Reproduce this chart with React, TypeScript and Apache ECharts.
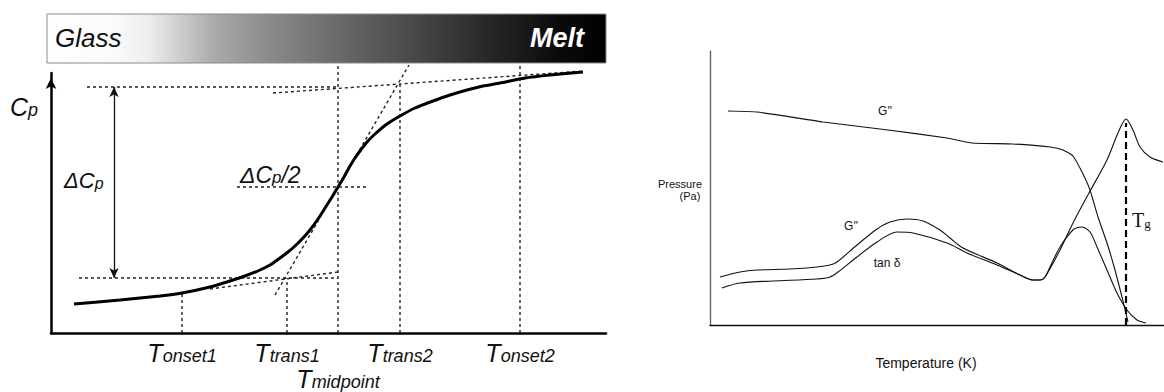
import React, { useEffect, useRef } from "react";
import * as echarts from "echarts";

// ---------------- Left panel: DSC heat-capacity step (schematic units) ----------------
const cpTemperature = [4.6, 13.8, 21.8, 26.2, 31.8, 35.8, 38.8, 41.8, 43.8, 45.8, 47.4, 48.8, 50.4, 51.8, 53.4, 54.8, 56.2, 57.4, 58.6, 59.8, 60.8, 61.8, 63.2, 64.8, 67.2, 69.8, 72.8, 76.4, 79.8, 83.2, 86.4, 89.8, 94.8, 99.8, 106.4];
const cpHeatCapacity = [11.6, 13.2, 14.8, 16, 18.4, 20.8, 22.8, 25.2, 27.2, 30, 32.4, 34.8, 38, 41.2, 45.6, 50, 54.4, 58.4, 62.4, 66.8, 70, 72.8, 76.4, 79.6, 83.6, 86.8, 90, 92.8, 95.2, 97.2, 98.8, 100, 102, 103.2, 104.4];

const markNames = ["onset1", "trans1", "midpoint", "trans2", "onset2"];
const markTemperatures = [26.2, 47.2, 57.4, 69.8, 93.8];
const markTops = [16, 22, 108, 100, 108];

const glassLevel = 22;
const glassLevelFrom = 5.6;
const meltLevel = 98.4;
const meltLevelFrom = 7.2;
const levelsTo = 57.4;
const halfLevel = 58.4;
const halfLevelSpan = [37.2, 63.6];
const glassTangentT = [31.8, 57.4];
const glassTangentCp = [17.6, 24.4];
const meltTangentT = [44.4, 106.4];
const meltTangentCp = [96, 104.8];
const midTangentT = [44.8, 71.6];
const midTangentCp = [15.2, 107.2];
const deltaCpT = 12.6;

// ---------------- Right panel: DMA (schematic units) ----------------
const gStorageT = [9, 23.5, 56.5, 89, 118.5, 131, 151.5, 170, 176.5, 181.5, 186.5, 190, 194, 198.5, 202.5, 206, 209];
const gStorage = [107, 106.5, 101.5, 97.5, 93.5, 91, 90.5, 89, 87.5, 84.5, 75.5, 67.5, 54, 41, 27.5, 14, 1.5];

const gLossT = [5, 15, 23.5, 40, 53.5, 60, 63.5, 73.5, 83.5, 90, 98.5, 106.5, 115, 120, 126.5, 143.5, 155, 161.5, 165, 167.5, 170, 175, 181.5, 186, 190, 193.5, 198.5, 203.5, 208.5, 213.5, 218];
const gLoss = [24, 26.5, 27.5, 28, 29, 30, 31.5, 40, 48, 51.5, 53, 52, 47.5, 43.5, 38.5, 31, 25, 22.5, 22.5, 24, 29, 39, 47.5, 49, 46.5, 39, 27.5, 16, 7.5, 2.5, 1];

const tanDeltaT = [6, 15, 31.5, 53.5, 60, 64, 73.5, 83.5, 93.5, 101.5, 118.5, 128.5, 143.5, 155, 161.5, 165, 167.5, 175, 181.5, 189.5, 198.5, 204, 208, 211.5, 215, 220, 226.5];
const tanDelta = [18.5, 21, 22, 23, 24, 26.5, 34, 41.5, 46.5, 46, 41, 36, 30, 25, 22.5, 22.5, 24, 37.5, 51, 66, 82.5, 96, 103, 97.5, 89, 84, 81.5];

const tgTemperature = 208;
const tgTop = 101;

const FONT = '"Liberation Sans", Arial, Helvetica, sans-serif';
const SERIF = '"Liberation Serif", "Times New Roman", serif';

const zip = (xs: number[], ys: number[]) => xs.map((x, i) => [x, ys[i]]);

export default function App() {
  const ref = useRef<HTMLDivElement>(null);

  useEffect(() => {
    const chart = echarts.init(ref.current!, null, { renderer: "svg" });
    const dashed = { type: [3, 3], width: 1.4, color: "#222" };
    const mk = (data: number[][], axis: number, lineStyle: any, extra: any = {}) => ({
      type: "line",
      data,
      xAxisIndex: axis,
      yAxisIndex: axis,
      symbol: "none",
      showSymbol: false,
      clip: false,
      silent: true,
      lineStyle,
      z: 3,
      ...extra,
    });

    const series: any[] = [];
    series.push(mk([[glassLevelFrom, glassLevel], [levelsTo, glassLevel]], 0, dashed));
    series.push(mk([[meltLevelFrom, meltLevel], [levelsTo, meltLevel]], 0, dashed));
    series.push(mk([[halfLevelSpan[0], halfLevel], [halfLevelSpan[1], halfLevel]], 0, dashed));
    series.push(mk(zip(glassTangentT, glassTangentCp), 0, dashed));
    series.push(mk(zip(meltTangentT, meltTangentCp), 0, dashed));
    series.push(mk(zip(midTangentT, midTangentCp), 0, dashed));
    markTemperatures.forEach((t, i) => series.push(mk([[t, 0], [t, markTops[i]]], 0, dashed)));
    series.push(
      mk(zip(cpTemperature, cpHeatCapacity), 0, { width: 3, color: "#000" }, {
        smooth: 0.2,
        z: 5,
        markLine: {
          silent: true,
          animation: false,
          symbol: ["arrow", "arrow"],
          symbolSize: [7, 10],
          label: { show: false },
          lineStyle: { type: "solid", color: "#111", width: 1.3 },
          data: [[{ coord: [deltaCpT, glassLevel] }, { coord: [deltaCpT, meltLevel] }]],
        },
      })
    );

    const thin = { width: 1.1, color: "#111" };
    series.push(mk(zip(gStorageT, gStorage), 1, thin, { smooth: 0.15 }));
    series.push(mk(zip(gLossT, gLoss), 1, thin, { smooth: 0.3 }));
    series.push(mk(zip(tanDeltaT, tanDelta), 1, thin, { smooth: 0.3 }));
    series.push(mk([[tgTemperature, 0], [tgTemperature, tgTop]], 1, { type: [7, 4], width: 2.2, color: "#000" }));

    const hidden = { axisTick: { show: false }, axisLabel: { show: false }, splitLine: { show: false } };

    chart.setOption({
      animation: false,
      backgroundColor: "#ffffff",
      grid: [
        { left: 51, top: 73, width: 555, height: 260 },
        { left: 710, top: 51, width: 454, height: 274 },
      ],
      xAxis: [
        { type: "value", gridIndex: 0, min: 0, max: 111, ...hidden, axisLine: { show: true, onZero: false, lineStyle: { color: "#000", width: 2.5 } } },
        { type: "value", gridIndex: 1, min: 0, max: 227, ...hidden, axisLine: { show: true, onZero: false, lineStyle: { color: "#111", width: 1.3 } } },
      ],
      yAxis: [
        {
          type: "value", gridIndex: 0, min: 0, max: 104, ...hidden,
          axisLine: { show: true, onZero: false, symbol: ["none", "arrow"], symbolSize: [8, 11], symbolOffset: [0, -5], lineStyle: { color: "#000", width: 2.5 } },
        },
        { type: "value", gridIndex: 1, min: 0, max: 137, ...hidden, axisLine: { show: true, onZero: false, lineStyle: { color: "#666", width: 1.4 } } },
      ],
      series,
    });

    const tok = (size: number, family = FONT, italic = true, weight = "normal", fill = "#111") => ({
      fontSize: size, fontFamily: family, fontStyle: italic ? "italic" : "normal", fontWeight: weight, fill, verticalAlign: "bottom",
    });
    const rich = (x: number, y: number, text: string, r: any, align = "left") => ({
      type: "text", x, y, silent: true, z: 20,
      style: { text, rich: r, align, verticalAlign: "bottom", textAlign: align, textVerticalAlign: "bottom", fontFamily: FONT, fill: "#111" },
    });
    const plain = (x: number, y: number, text: string, size: number, opts: any = {}) => ({
      type: "text", x, y, silent: true, z: 20,
      style: {
        text, fontSize: size, fontFamily: opts.family || FONT, fontStyle: opts.italic ? "italic" : "normal",
        fontWeight: opts.weight || "normal", fill: opts.fill || "#111",
        align: opts.align || "center", verticalAlign: "middle", textAlign: opts.align || "center", textVerticalAlign: "middle",
      },
    });

    const graphic: any[] = [
      {
        type: "rect", silent: true, z: 1,
        shape: { x: 47, y: 14, width: 559, height: 49 },
        style: {
          fill: new echarts.graphic.LinearGradient(0, 0, 1, 0, [
            { offset: 0, color: "#ffffff" },
            { offset: 0.12, color: "#fafafa" },
            { offset: 0.18, color: "#eeeeee" },
            { offset: 0.24, color: "#cccccc" },
            { offset: 0.3, color: "#aaaaaa" },
            { offset: 0.4, color: "#8a8a8a" },
            { offset: 0.53, color: "#676767" },
            { offset: 0.67, color: "#454545" },
            { offset: 0.8, color: "#252525" },
            { offset: 0.92, color: "#0a0a0a" },
            { offset: 1, color: "#000000" },
          ]),
          stroke: "#8a8a8a", lineWidth: 1,
        },
      },
      plain(55, 38, "Glass", 26, { italic: true, align: "left" }),
      plain(584, 38, "Melt", 27, { italic: true, weight: "bold", fill: "#ffffff", align: "right" }),
      rich(10, 119, "{a|C}{b|p}", { a: tok(25), b: tok(18) }),
      rich(64, 191, "{a|ΔC}{b|p}", { a: tok(22), b: tok(16) }),
      rich(240, 186, "{a|ΔC}{b|p}{a|/2}", { a: tok(23), b: tok(17) }),
    ];

    markTemperatures.forEach((t, i) => {
      const x = chart.convertToPixel({ xAxisIndex: 0 }, t) as number;
      const y = markNames[i] === "midpoint" ? 391 : 365;
      graphic.push(rich(x, y, `{a|T}{b|${markNames[i]}}`, { a: tok(25), b: tok(18) }, "center"));
    });

    graphic.push(
      plain(885, 111, "G''", 12),
      plain(851, 226, "G''", 12),
      plain(887, 263, "tan δ", 12),
      plain(680, 184, "Pressure", 11),
      plain(690, 196, "(Pa)", 11),
      plain(926, 363, "Temperature (K)", 14),
      rich(1132, 230, "{a|T}{b|g}", { a: tok(20, SERIF, false), b: tok(13, SERIF, false) })
    );

    chart.setOption({ graphic });

    return () => chart.dispose();
  }, []);

  return <div ref={ref} style={{ position: "absolute", left: 0, top: 0, width: 1164, height: 392 }} />;
}
